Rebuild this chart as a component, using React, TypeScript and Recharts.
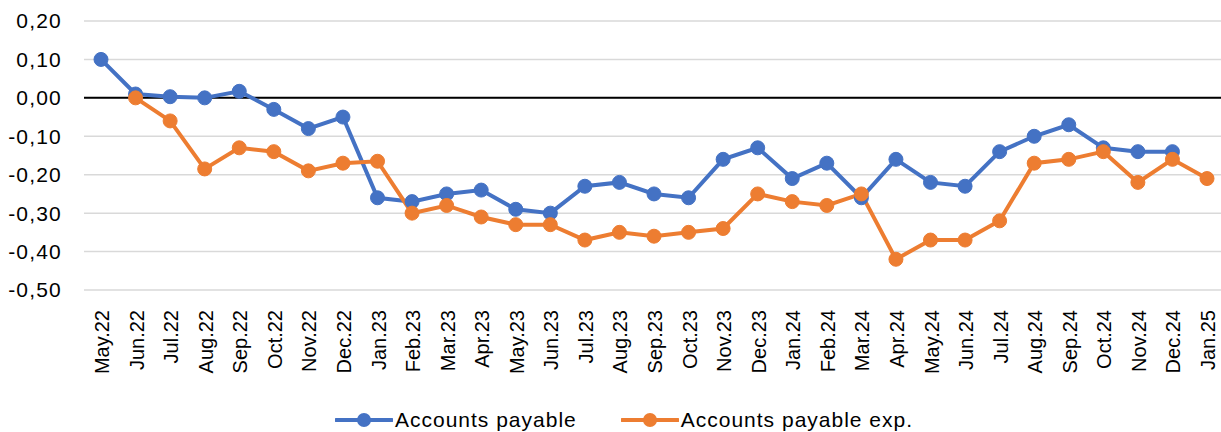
import { LineChart, Line, XAxis, YAxis, CartesianGrid, ReferenceLine, Legend } from "recharts"

const months = [
  "May.22", "Jun.22", "Jul.22", "Aug.22", "Sep.22", "Oct.22", "Nov.22", "Dec.22",
  "Jan.23", "Feb.23", "Mar.23", "Apr.23", "May.23", "Jun.23", "Jul.23", "Aug.23",
  "Sep.23", "Oct.23", "Nov.23", "Dec.23", "Jan.24", "Feb.24", "Mar.24", "Apr.24",
  "May.24", "Jun.24", "Jul.24", "Aug.24", "Sep.24", "Oct.24", "Nov.24", "Dec.24",
  "Jan.25",
]

const payable = [
  0.10, 0.01, 0.003, 0.0, 0.017, -0.03, -0.08, -0.05,
  -0.26, -0.27, -0.25, -0.24, -0.29, -0.30, -0.23, -0.22,
  -0.25, -0.26, -0.16, -0.13, -0.21, -0.17, -0.26, -0.16,
  -0.22, -0.23, -0.14, -0.10, -0.07, -0.13, -0.14, -0.14,
  null,
]

const payableExp = [
  null, 0.0, -0.06, -0.185, -0.13, -0.14, -0.19, -0.17,
  -0.165, -0.30, -0.28, -0.31, -0.33, -0.33, -0.37, -0.35,
  -0.36, -0.35, -0.34, -0.25, -0.27, -0.28, -0.25, -0.42,
  -0.37, -0.37, -0.32, -0.17, -0.16, -0.14, -0.22, -0.16,
  -0.21,
]

const yTicks = [0.2, 0.1, 0, -0.1, -0.2, -0.3, -0.4, -0.5]

const data = months.map((m, i) => ({
  name: m,
  ap: payable[i],
  ape: payableExp[i],
}))

const BLUE = "#4472C4"
const ORANGE = "#ED7D31"
const FONT = "'Liberation Sans', Arial, sans-serif"

const fmt = (v: number) => {
  const s = Math.abs(v).toFixed(2).replace(".", ",")
  return v < -0.0001 ? "-" + s : s
}

function MonthTick(props: any) {
  const { x, y, payload } = props
  return (
    <g transform={`translate(${x},${y})`}>
      <text
        transform="rotate(-90)"
        x={-18}
        y={1}
        textAnchor="end"
        dominantBaseline="central"
        fontSize={20}
        fontFamily={FONT}
        fill="#000"
      >
        {payload.value}
      </text>
    </g>
  )
}

function LegendItem({ color, label }: { color: string; label: string }) {
  return (
    <div style={{ display: "flex", alignItems: "center" }}>
      <svg width={58} height={16}>
        <line x1={1} y1={8} x2={57} y2={8} stroke={color} strokeWidth={4} strokeLinecap="round" />
        <circle cx={29} cy={8} r={7} fill={color} />
      </svg>
      <span style={{ fontSize: 21, fontFamily: FONT, color: "#000", letterSpacing: 1, marginLeft: 2 }}>
        {label}
      </span>
    </div>
  )
}

function ChartLegend() {
  return (
    <div
      style={{
        display: "flex",
        justifyContent: "center",
        gap: 44,
        paddingTop: 17,
        paddingLeft: 27,
        height: 42,
        boxSizing: "border-box",
      }}
    >
      <LegendItem color={BLUE} label="Accounts payable" />
      <LegendItem color={ORANGE} label="Accounts payable exp." />
    </div>
  )
}

export default function App() {
  return (
    <div style={{ position: "absolute", left: 0, top: 0, background: "#fff" }}>
      <LineChart width={1221} height={432} data={data} margin={{ top: 21, right: 0, left: 0, bottom: 0 }}>
        <CartesianGrid vertical={false} stroke="#d9d9d9" strokeWidth={1.5} />
        <XAxis
          dataKey="name"
          interval={0}
          axisLine={false}
          tickLine={false}
          tickSize={0}
          height={100}
          padding={{ left: 17, right: 14 }}
          tick={<MonthTick />}
        />
        <YAxis
          domain={[-0.5, 0.2]}
          ticks={yTicks}
          width={84}
          axisLine={false}
          tickLine={false}
          tickSize={0}
          tickMargin={22}
          tickFormatter={fmt}
          tick={{ fontSize: 21, fontFamily: FONT, fill: "#000", letterSpacing: 1.2 }}
        />
        <ReferenceLine y={0} stroke="#000" strokeWidth={2} />
        <Legend verticalAlign="bottom" height={42} content={() => <ChartLegend />} />
        <Line
          dataKey="ap"
          stroke={BLUE}
          strokeWidth={4}
          dot={{ r: 7, fill: BLUE, stroke: BLUE, strokeWidth: 1 }}
          isAnimationActive={false}
        />
        <Line
          dataKey="ape"
          stroke={ORANGE}
          strokeWidth={4}
          dot={{ r: 7, fill: ORANGE, stroke: ORANGE, strokeWidth: 1 }}
          isAnimationActive={false}
        />
      </LineChart>
    </div>
  )
}
